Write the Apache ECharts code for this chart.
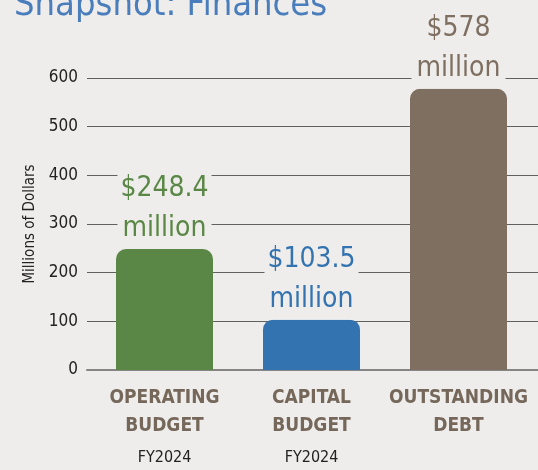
<!DOCTYPE html>
<html>
<head>
<meta charset="utf-8">
<script src="https://cdn.jsdelivr.net/npm/echarts@6/dist/echarts.min.js"></script>
<style>
  html, body { margin: 0; padding: 0; background: #eeedeb; }
  #chart { width: 538px; height: 470px; }
</style>
</head>
<body>
<div id="chart"></div>
<script>
// chart data
const categories = ['OPERATING\nBUDGET', 'CAPITAL\nBUDGET', 'OUTSTANDING\nDEBT'];
const subLabels = ['FY2024', 'FY2024', ''];
const values = [248.4, 103.5, 578];
const barColors = ['#5a8746', '#3373b0', '#7e6f61'];
const yTicks = [0, 100, 200, 300, 400, 500, 600];

const NARROW = "'DejaVu Sans Condensed', 'Liberation Sans', sans-serif";
const PAPER = '#eeedeb';

let chart = echarts.init(document.getElementById('chart'));
let option = {
  backgroundColor: PAPER,
  animation: false,
  title: {
    text: 'Snapshot: Finances',
    left: 14,
    top: -12,
    padding: 0,
    textStyle: { color: '#4a7dbb', fontSize: 36, fontWeight: 'normal', fontFamily: NARROW }
  },
  grid: [
    { left: 87, right: 0, top: 78, bottom: 100 },   // gridlines, full width
    { left: 91, right: 6, top: 78, bottom: 100 }    // bars
  ],
  xAxis: [{
    type: 'category',
    gridIndex: 0,
    data: categories,
    axisLine: { show: true, lineStyle: { color: '#858585', width: 2 } },
    axisTick: { show: false },
    axisLabel: { show: false }
  }, {
    type: 'category',
    gridIndex: 1,
    data: categories,
    axisLine: { show: false },
    axisTick: { show: false },
    axisLabel: {
      interval: 0,
      margin: 14,
      formatter: function (val, i) {
        let parts = val.split('\n').map(p => '{cap|' + p + '}');
        if (subLabels[i]) parts.push('{fy|' + subLabels[i] + '}');
        return parts.join('\n');
      },
      rich: {
        cap: { fontFamily: NARROW, fontWeight: 'bold', fontSize: 19, color: '#75675a', lineHeight: 28 },
        fy: { fontFamily: NARROW, fontSize: 16, color: '#222', lineHeight: 36 }
      }
    }
  }],
  yAxis: [{
    type: 'value',
    gridIndex: 0,
    min: yTicks[0],
    max: yTicks[yTicks.length - 1],
    interval: 100,
    name: 'Millions of Dollars',
    nameLocation: 'middle',
    nameRotate: 90,
    nameGap: 49,
    nameTextStyle: { fontFamily: NARROW, fontSize: 15, color: '#222' },
    axisLine: { show: false },
    axisTick: { show: false },
    axisLabel: { margin: 9, fontFamily: NARROW, fontSize: 17, color: '#222' },
    splitLine: { lineStyle: { color: '#606060', width: 1.2 } }
  }, {
    type: 'value',
    gridIndex: 1,
    min: yTicks[0],
    max: yTicks[yTicks.length - 1],
    show: false,
    splitLine: { show: false }
  }],
  series: [{
    type: 'bar',
    xAxisIndex: 1,
    yAxisIndex: 1,
    barWidth: 97,
    data: values.map((v, i) => ({
      value: v,
      itemStyle: { color: barColors[i], borderRadius: [10, 10, 0, 0] },
      label: {
        rich: {
          v: { fontFamily: NARROW, fontSize: 28, lineHeight: 40, color: barColors[i] },
          m: { fontFamily: NARROW, fontSize: 28, lineHeight: 40, color: barColors[i] }
        }
      }
    })),
    label: {
      show: true,
      position: 'top',
      distance: 0,
      width: 94,
      align: 'center',
      backgroundColor: PAPER,
      formatter: p => '{v|$' + p.value + '}\n{m|million}'
    }
  }]
};
chart.setOption(option);
</script>
</body>
</html>
